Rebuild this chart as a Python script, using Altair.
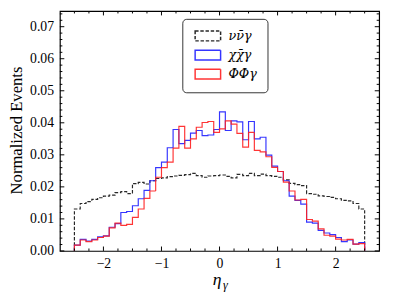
import altair as alt
import pandas as pd

# ---- data -------------------------------------------------------------
bin_edges = [round(-2.5 + 0.1 * i, 1) for i in range(51)]

nu_vals = [0.0131, 0.0148, 0.0154, 0.0161, 0.0166, 0.0171, 0.0174, 0.0182, 0.0185, 0.0179,
           0.0210, 0.0214, 0.0209, 0.0219, 0.0226, 0.0228, 0.0232, 0.0234, 0.0236, 0.0238,
           0.0242, 0.0235, 0.0230, 0.0234, 0.0235, 0.0237, 0.0233, 0.0228, 0.0239, 0.0235,
           0.0242, 0.0235, 0.0240, 0.0235, 0.0233, 0.0230, 0.0222, 0.0211, 0.0207, 0.0204,
           0.0179, 0.0177, 0.0172, 0.0170, 0.0167, 0.0163, 0.0158, 0.0156, 0.0148, 0.0131]

chi_vals = [0.0018, 0.0036, 0.0031, 0.0036, 0.0044, 0.0047, 0.0074, 0.0085, 0.0120, 0.0123,
            0.0141, 0.0163, 0.0189, 0.0219, 0.0260, 0.0277, 0.0322, 0.0379, 0.0335, 0.0345,
            0.0368, 0.0376, 0.0360, 0.0362, 0.0379, 0.0434, 0.0376, 0.0406, 0.0403, 0.0347,
            0.0404, 0.0350, 0.0355, 0.0299, 0.0265, 0.0248, 0.0219, 0.0171, 0.0158, 0.0146,
            0.0090, 0.0087, 0.0064, 0.0056, 0.0051, 0.0042, 0.0029, 0.0034, 0.0021, 0.0026]

phi_vals = [0.0018, 0.0034, 0.0029, 0.0034, 0.0042, 0.0046, 0.0072, 0.0087, 0.0080, 0.0083,
            0.0105, 0.0131, 0.0164, 0.0187, 0.0230, 0.0260, 0.0277, 0.0321, 0.0389, 0.0321,
            0.0350, 0.0386, 0.0401, 0.0404, 0.0370, 0.0381, 0.0406, 0.0396, 0.0367, 0.0324,
            0.0370, 0.0314, 0.0309, 0.0294, 0.0261, 0.0248, 0.0215, 0.0187, 0.0159, 0.0161,
            0.0098, 0.0093, 0.0069, 0.0049, 0.0046, 0.0037, 0.0034, 0.0036, 0.0021, 0.0023]

series_names = ["νν̄γ", "χχ̄γ", "ΦΦγ"]
series_colors = ["#111111", "#1f1fff", "#ff1f1f"]

x_major = [-2, -1, 0, 1, 2]
x_minor = [-2.5, -2.25, -1.75, -1.5, -1.25, -0.75, -0.5, -0.25,
           0.25, 0.5, 0.75, 1.25, 1.5, 1.75, 2.25, 2.5]
y_major = [0.00, 0.01, 0.02, 0.03, 0.04, 0.05, 0.06, 0.07]
y_minor = [0.002, 0.004, 0.006, 0.008, 0.012, 0.014, 0.016, 0.018,
           0.022, 0.024, 0.026, 0.028, 0.032, 0.034, 0.036, 0.038,
           0.042, 0.044, 0.046, 0.048, 0.052, 0.054, 0.056, 0.058,
           0.062, 0.064, 0.066, 0.068, 0.072, 0.074]

# ---- build step outlines ---------------------------------------------
rows = []
for name, vals in zip(series_names, [nu_vals, chi_vals, phi_vals]):
    k = 0
    rows.append(dict(s=name, x=bin_edges[0], y=0.0, o=k)); k += 1
    for i, v in enumerate(vals):
        rows.append(dict(s=name, x=bin_edges[i], y=v, o=k)); k += 1
        rows.append(dict(s=name, x=bin_edges[i + 1], y=v, o=k)); k += 1
    rows.append(dict(s=name, x=bin_edges[-1], y=0.0, o=k))
df = pd.DataFrame(rows)

W, H = 326, 245
FONT = "Liberation Serif"
xs = alt.Scale(domain=[-2.75, 2.75], nice=False, zero=False)
ys = alt.Scale(domain=[0, 0.0749], nice=False, zero=False)

ax_x = alt.Axis(values=x_major, labelPadding=6, title=None)
ax_y = alt.Axis(values=y_major, format=".2f", labelPadding=6.5,
                title="Normalized Events", titleX=-44, titleY=H / 2 - 1,
                titleBaseline="middle", titleAlign="center", titleAngle=270)

leg = alt.Legend(
    title=None, orient="none", legendX=125, legendY=8, padding=10,
    strokeColor="#333333", cornerRadius=4, fillColor="white",
    symbolType="M-2,-0.77H2V0.77H-2Z", symbolSize=169, symbolStrokeWidth=1.5,
    symbolOffset=8.6, symbolFillColor="transparent",
    labelFont="DejaVu Serif", labelFontStyle="italic",
    labelFontSize=13, labelColor="black", labelOffset=13.5, rowPadding=2.5,
)

lines = alt.Chart(df).mark_line(strokeWidth=1.2, opacity=0.9).encode(
    x=alt.X("x:Q", scale=xs, axis=ax_x),
    y=alt.Y("y:Q", scale=ys, axis=ax_y),
    color=alt.Color("s:N", scale=alt.Scale(domain=series_names, range=series_colors), legend=leg),
    strokeDash=alt.StrokeDash("s:N", scale=alt.Scale(domain=series_names,
                              range=[[3.5, 1.8], [1, 0], [1, 0]]), legend=leg),
    order="o:Q",
)

def xticks(vals, length):
    d = pd.DataFrame({"t": vals})
    b = alt.Chart(d).mark_rule(color="black", strokeWidth=1).encode(
        x=alt.X("t:Q", scale=xs, axis=ax_x), y=alt.value(H), y2=alt.value(H - length))
    t = alt.Chart(d).mark_rule(color="black", strokeWidth=1).encode(
        x=alt.X("t:Q", scale=xs, axis=ax_x), y=alt.value(0), y2=alt.value(length))
    return [b, t]

def yticks(vals, length):
    d = pd.DataFrame({"t": vals})
    l = alt.Chart(d).mark_rule(color="black", strokeWidth=1).encode(
        y=alt.Y("t:Q", scale=ys, axis=ax_y), x=alt.value(0), x2=alt.value(length))
    r = alt.Chart(d).mark_rule(color="black", strokeWidth=1).encode(
        y=alt.Y("t:Q", scale=ys, axis=ax_y), x=alt.value(W), x2=alt.value(W - length))
    return [l, r]

eta = alt.Chart(pd.DataFrame({"t": ["η"]})).mark_text(
    align="left", baseline="alphabetic", font=FONT, fontStyle="italic", fontSize=18,
    color="black").encode(x=alt.value(156), y=alt.value(280), text="t:N")
gam = alt.Chart(pd.DataFrame({"t": ["γ"]})).mark_text(
    align="left", baseline="alphabetic", font=FONT, fontStyle="italic", fontSize=12.5,
    color="black").encode(x=alt.value(166.5), y=alt.value(284), text="t:N")

layers = [lines] + xticks(x_major, 4.5) + xticks(x_minor, 2.5) + \
    yticks(y_major, 4.5) + yticks(y_minor, 2.5) + [eta, gam]

chart = alt.layer(*layers).properties(
    width=W, height=H,
    autosize=alt.AutoSizeParams(type="none"),
    padding={"left": 53, "top": 0, "right": 7, "bottom": 45},
).configure_axis(
    domain=False, ticks=False, grid=False,
    labelFont=FONT, labelFontSize=14, labelColor="black",
    titleFont=FONT, titleFontSize=17, titleFontWeight="normal", titleColor="black",
).configure_view(stroke="black", strokeWidth=1.2)

chart.save("out.html", embed_options={"renderer": "svg", "actions": False})
